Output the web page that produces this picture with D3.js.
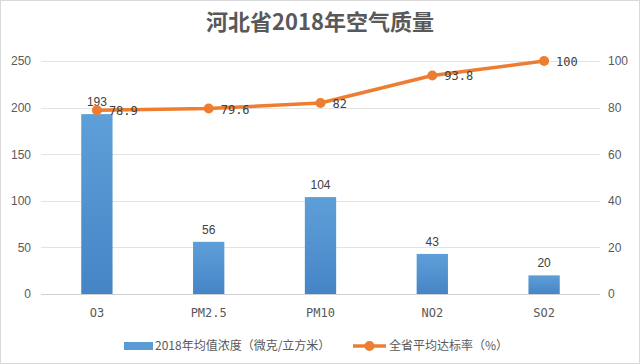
<!DOCTYPE html>
<html><head><meta charset="utf-8">
<script src="https://cdn.jsdelivr.net/npm/d3@7"></script>
<style>
body{margin:0;background:#fff;}
svg{display:block;font-family:"Liberation Sans","DejaVu Sans",sans-serif;}
</style></head>
<body>
<svg id="c" width="640" height="364"></svg>
<script>
const categories = ["O3","PM2.5","PM10","NO2","SO2"];
const concentration = [193,56,104,43,20];
const complianceRate = [78.9,79.6,82,93.8,100];
const leftTicks = [0,50,100,150,200,250];
const rightTicks = [0,20,40,60,80,100];
const title = "河北省2018年空气质量";
const legendBar = "2018年均值浓度（微克/立方米）";
const legendLine = "全省平均达标率（%）";

const svg = d3.select("#c");
const W=640,H=364;
const pL=41,pR=600,pT=61,pB=294;
svg.append("rect").attr("x",0.5).attr("y",0.5).attr("width",W-1).attr("height",H-1)
  .attr("fill","#fff").attr("stroke","#d9d9d9");

const defs=svg.append("defs");
const g=defs.append("linearGradient").attr("id","bg").attr("x1",0).attr("y1",0).attr("x2",0).attr("y2",1);
g.append("stop").attr("offset","0%").attr("stop-color","#5f9fd8");
g.append("stop").attr("offset","100%").attr("stop-color","#4585c6");

const x=d3.scaleBand().domain(categories).range([pL,pR]).paddingInner(0.72).paddingOuter(0.36);
const yL=d3.scaleLinear().domain([0,250]).range([pB,pT]);
const yR=d3.scaleLinear().domain([0,100]).range([pB,pT]);

// gridlines
svg.append("g").selectAll("line").data(leftTicks).join("line")
  .attr("x1",pL).attr("x2",pR).attr("y1",d=>Math.round(yL(d))+0.5).attr("y2",d=>Math.round(yL(d))+0.5)
  .attr("stroke",d=>d===0?"#d0d0d0":"#e3e3e3").attr("stroke-width",1);

// left axis
const axL=svg.append("g").attr("transform",`translate(${pL-10},0)`)
  .call(d3.axisLeft(yL).tickValues(leftTicks).tickSize(0).tickPadding(0));
axL.select(".domain").remove();
axL.selectAll("text").attr("fill","#595959").attr("font-size",12);

const axR=svg.append("g").attr("transform",`translate(${pR+8},0)`)
  .call(d3.axisRight(yR).tickValues(rightTicks).tickSize(0).tickPadding(0));
axR.select(".domain").remove();
axR.selectAll("text").attr("fill","#595959").attr("font-size",12);

// x axis labels
const axB=svg.append("g").attr("transform",`translate(0,${pB+12})`)
  .call(d3.axisBottom(x).tickSize(0).tickPadding(0));
axB.select(".domain").remove();
axB.selectAll("text").attr("fill","#595959").attr("font-size",12).attr("font-family","'DejaVu Sans Mono','Liberation Mono',monospace").attr("dy","0.9em");

// bars
svg.append("g").selectAll("rect").data(categories).join("rect")
  .attr("x",d=>x(d)).attr("width",x.bandwidth())
  .attr("y",(d,i)=>yL(concentration[i])).attr("height",(d,i)=>pB-yL(concentration[i]))
  .attr("fill","url(#bg)");

svg.append("g").selectAll("text").data(categories).join("text")
  .attr("x",d=>x(d)+x.bandwidth()/2).attr("y",(d,i)=>yL(concentration[i])-8)
  .attr("text-anchor","middle").attr("fill","#404040").attr("font-size",12)
  .text((d,i)=>concentration[i]);

// line
const cx=d=>x(d)+x.bandwidth()/2;
const line=d3.line().x(d=>cx(d[0])).y(d=>yR(d[1]));
const pts=categories.map((c,i)=>[c,complianceRate[i]]);
svg.append("path").datum(pts).attr("d",line).attr("fill","none")
  .attr("stroke","#ed7d31").attr("stroke-width",3.5).attr("stroke-linejoin","round");
svg.append("g").selectAll("circle").data(pts).join("circle")
  .attr("cx",d=>cx(d[0])).attr("cy",d=>yR(d[1])).attr("r",5).attr("fill","#ed7d31");
svg.append("g").selectAll("text").data(pts).join("text")
  .attr("x",d=>cx(d[0])+12).attr("y",d=>yR(d[1])+5)
  .attr("fill","#404040").attr("font-size",12)
  .attr("font-family","'DejaVu Sans Mono','Liberation Mono',monospace")
  .text(d=>d[1]);

// title
svg.append("text").attr("x",320).attr("y",30).attr("text-anchor","middle")
  .attr("font-family","'Noto Sans CJK SC',sans-serif").attr("font-size",22).attr("font-weight","bold")
  .attr("fill","#595959").text(title);

// legend
const ly=346;
svg.append("rect").attr("x",124).attr("y",ly-4).attr("width",29).attr("height",8).attr("fill","#5b9bd5");
svg.append("text").attr("x",155).attr("y",ly+4).attr("font-size",12).attr("fill","#595959")
  .attr("font-family","'Noto Sans CJK SC',sans-serif").text(legendBar);
svg.append("line").attr("x1",353).attr("x2",386).attr("y1",ly).attr("y2",ly).attr("stroke","#ed7d31").attr("stroke-width",3.5);
svg.append("circle").attr("cx",369.5).attr("cy",ly).attr("r",5).attr("fill","#ed7d31");
svg.append("text").attr("x",389).attr("y",ly+4).attr("font-size",12).attr("fill","#595959")
  .attr("font-family","'Noto Sans CJK SC',sans-serif").text(legendLine);
</script>
</body></html>
